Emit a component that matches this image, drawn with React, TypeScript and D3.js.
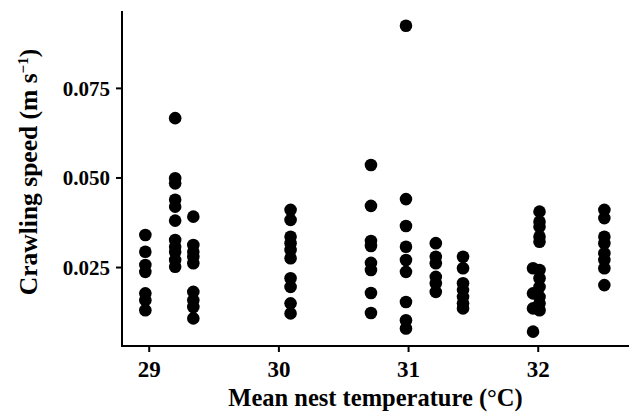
import * as d3 from "d3";
import React from "react";

const width = 629;
const height = 414;
const margin = { top: 11, right: 0, bottom: 68, left: 122 };

// mean nest temperature of each clutch (°C)
const nestTemps = [28.97, 29.2, 29.34, 30.09, 30.71, 30.98, 31.21, 31.42, 31.96, 32.01, 32.51];

// crawling speeds (m/s) of the hatchlings in each clutch
const crawlSpeeds = [
  [0.0341, 0.0294, 0.0257, 0.0238, 0.0178, 0.0159, 0.0131],
  [0.0667, 0.0499, 0.0485, 0.0439, 0.042, 0.0381, 0.0327, 0.0308, 0.0294, 0.0271, 0.0252],
  [0.0392, 0.0313, 0.0294, 0.028, 0.0262, 0.0182, 0.0159, 0.014, 0.0108],
  [0.0411, 0.0383, 0.0336, 0.0318, 0.0299, 0.0276, 0.022, 0.0196, 0.015, 0.0122],
  [0.0536, 0.0422, 0.0324, 0.031, 0.0263, 0.0243, 0.0179, 0.0123],
  [0.0925, 0.0441, 0.0366, 0.0308, 0.0271, 0.0238, 0.0154, 0.0103, 0.008],
  [0.0318, 0.028, 0.0262, 0.0224, 0.0206, 0.0182],
  [0.028, 0.0248, 0.0206, 0.0187, 0.0168, 0.015, 0.0136],
  [0.0248, 0.0178, 0.0136, 0.0071],
  [0.0406, 0.0378, 0.0364, 0.0336, 0.0322, 0.0243, 0.022, 0.0196, 0.0168, 0.015, 0.0131],
  [0.0411, 0.0388, 0.0336, 0.0318, 0.029, 0.0271, 0.0248, 0.0201],
];

const xTicks = [29, 30, 31, 32];
const yTicks = [0.025, 0.05, 0.075];

const points = nestTemps.flatMap((t, i) => crawlSpeeds[i].map((s) => ({ temp: t, speed: s })));

const font = "'Liberation Serif', 'Times New Roman', serif";

const App = () => {
  const xScale = d3
    .scaleLinear()
    .domain([28.79, 32.7])
    .range([margin.left, width - margin.right]);

  const yScale = d3
    .scaleLinear()
    .domain([0.0031, 0.0966])
    .range([height - margin.bottom, margin.top]);

  const x0 = margin.left;
  const y0 = height - margin.bottom;
  const fmt = d3.format(".3f");

  return (
    <svg
      width={width}
      height={height}
      style={{ position: "absolute", left: 0, top: 0, background: "white" }}
      fontFamily={font}
      fontWeight="bold"
    >
      {/* points */}
      {points.map((d, i) => (
        <circle key={i} cx={xScale(d.temp)} cy={yScale(d.speed)} r={6.3} fill="black" />
      ))}

      {/* axes */}
      <line x1={x0} x2={x0} y1={margin.top} y2={y0 + 1} stroke="black" strokeWidth={2} />
      <line x1={x0 - 1} x2={width} y1={y0} y2={y0} stroke="black" strokeWidth={2} />

      {xTicks.map((t) => (
        <g key={t} transform={`translate(${xScale(t)},${y0})`}>
          <line y1={0} y2={6} stroke="black" strokeWidth={2} />
          <text y={31} textAnchor="middle" fontSize={23}>
            {t}
          </text>
        </g>
      ))}

      {yTicks.map((t) => (
        <g key={t} transform={`translate(${x0},${yScale(t)})`}>
          <line x1={-6} x2={0} stroke="black" strokeWidth={2} />
          <text x={-12} dy="0.35em" textAnchor="end" fontSize={21}>
            {fmt(t)}
          </text>
        </g>
      ))}

      {/* axis titles */}
      <text x={(x0 + width) / 2} y={406} textAnchor="middle" fontSize={24.5}>
        Mean nest temperature (°C)
      </text>
      <text
        transform={`translate(37,172) rotate(-90)`}
        textAnchor="middle"
        fontSize={25.5}
      >
        Crawling speed (m s
        <tspan fontSize={15} dy={-9}>
          −1
        </tspan>
        <tspan dy={9}>)</tspan>
      </text>
    </svg>
  );
};

export default App;
